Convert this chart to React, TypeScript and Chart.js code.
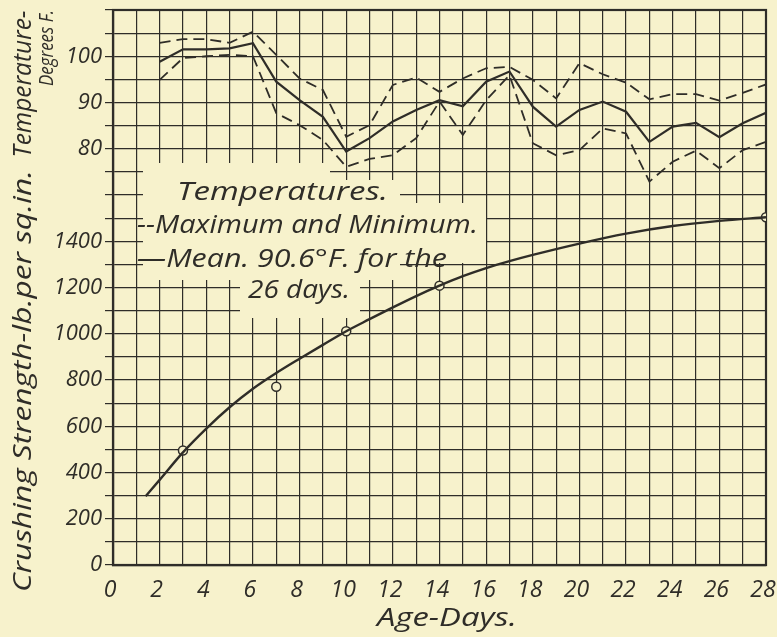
import React, { useEffect, useRef } from 'react';
import { Chart, registerables } from 'chart.js';

Chart.register(...registerables);

// ---- Data ----
const tempDays = [2, 3, 4, 5, 6, 7, 8, 9, 10, 11, 12, 13, 14, 15, 16, 17, 18, 19, 20, 21, 22, 23, 24, 25, 26, 27, 28];
const tempMax = [102.9, 103.7, 103.7, 102.9, 105.3, 100.3, 95.2, 92.7, 82.6, 85.1, 93.8, 95.4, 92.3, 95.2, 97.4, 97.7, 94.9, 90.9, 98.5, 96.1, 94.3, 90.7, 91.8, 91.8, 90.4, 92.1, 93.9];
const tempMean = [98.8, 101.5, 101.5, 101.7, 102.8, 94.5, 90.5, 86.9, 79.4, 82.3, 85.9, 88.4, 90.5, 89.2, 94.5, 96.7, 89.1, 84.8, 88.4, 90.2, 88.0, 81.5, 84.8, 85.6, 82.5, 85.5, 87.8];
const tempMin = [94.9, 99.6, 100, 100.3, 100, 87.7, 85.1, 81.9, 76.1, 77.8, 78.6, 82.3, 90.2, 83, 90.5, 95.9, 81.2, 78.6, 79.7, 84.4, 83.3, 72.9, 77.2, 79.6, 75.8, 79.7, 81.5];

const testDays = [3, 7, 10, 14, 28];
const testStrength = [495, 771, 1011, 1208, 1504];

const curveDays = [1.4, 2, 3, 4, 5, 6, 7, 8, 9, 10, 11, 12, 13, 14, 15, 16, 17, 18, 20, 22, 24, 26, 28];
const curveStrength = [297, 368, 487, 590, 682, 762, 830, 892, 952, 1011, 1063, 1114, 1163, 1208, 1249, 1284, 1314, 1341, 1390, 1433, 1466, 1488, 1504];

const strengthLabels = [0, 200, 400, 600, 800, 1000, 1200, 1400];
const tempLabels = [80, 90, 100];
const xLabelStep = 2;

const legendLines = ['Temperatures.', '--Maximum and Minimum.', '\u2014Mean. 90.6\u00B0F. for the', '26 days.'];
const xTitle = 'Age-Days.';
const yTitleStrength = 'Crushing Strength-lb.per sq.in.';
const yTitleTemp1 = 'Temperature-';
const yTitleTemp2 = 'Degrees F.';

// temperature axis range aligned to strength grid (5 °F per 100 lb)
const S_MAX = 2400;
const T_TOP = 110;
const T_BOTTOM = T_TOP - S_MAX / 20;

const PAPER = '#f7f2cc';
const INK = '#2f2d28';
const FONT = '"Open Sans", "DejaVu Sans", sans-serif';

function tempToStrength(t: number) {
  return (t - T_BOTTOM) * 20;
}

function fitText(ctx: CanvasRenderingContext2D, text: string, x: number, y: number, width: number, size: number, align: 'left' | 'center' = 'left') {
  ctx.save();
  ctx.font = `italic ${size}px ${FONT}`;
  const w = ctx.measureText(text).width;
  const sx = width / w;
  ctx.translate(x, y);
  ctx.scale(sx, 1);
  ctx.textAlign = align;
  ctx.fillText(text, 0, 0);
  ctx.restore();
}

export default function App() {
  const ref = useRef<HTMLCanvasElement>(null);

  useEffect(() => {
    const canvas = ref.current!;
    const paperPlugin = {
      id: 'paper',
      beforeDraw(chart: any) {
        const ctx = chart.ctx;
        ctx.save();
        ctx.fillStyle = PAPER;
        ctx.fillRect(0, 0, chart.width, chart.height);
        ctx.restore();
      },
    };

    const notesPlugin = {
      id: 'notes',
      beforeDatasetsDraw(chart: any) {
        const ctx: CanvasRenderingContext2D = chart.ctx;
        const a = chart.chartArea;
        ctx.save();
        ctx.fillStyle = PAPER;
        ctx.fillRect(143, 163, 187, 117);
        ctx.fillRect(330, 180, 70, 100);
        ctx.fillRect(400, 203, 86, 60);
        ctx.fillRect(240, 280, 120, 38);
        ctx.strokeStyle = INK;
        ctx.lineWidth = 2.2;
        ctx.strokeRect(a.left, a.top, a.right - a.left, a.bottom - a.top);
        ctx.fillStyle = INK;
        ctx.textBaseline = 'alphabetic';
        fitText(ctx, legendLines[0], 177, 200, 211, 25);
        fitText(ctx, legendLines[1], 137, 233, 341, 25);
        fitText(ctx, legendLines[2], 137, 267, 310, 25);
        fitText(ctx, legendLines[3], 248, 298, 102, 25);
        ctx.restore();
      },
      afterDraw(chart: any) {
        const ctx: CanvasRenderingContext2D = chart.ctx;
        ctx.save();
        ctx.fillStyle = INK;
        ctx.textBaseline = 'middle';
        fitText(ctx, xTitle, 447, 619, 140, 25, 'center');
        const rot = (text: string, cx: number, cy: number, len: number, size: number) => {
          ctx.save();
          ctx.translate(cx, cy);
          ctx.rotate(-Math.PI / 2);
          fitText(ctx, text, 0, 0, len, size, 'center');
          ctx.restore();
        };
        rot(yTitleStrength, 24, 381, 422, 25);
        rot(yTitleTemp1, 24, 84, 147, 25);
        rot(yTitleTemp2, 47, 48, 76, 20);
        ctx.restore();
      },
    };

    const tickFont = { family: FONT, size: 22, style: 'italic' as const };

    const chart = new Chart(canvas, {
      type: 'line',
      data: {
        datasets: [
          {
            label: 'Maximum',
            data: tempDays.map((d, i) => ({ x: d, y: tempMax[i] })),
            yAxisID: 'yT',
            borderColor: INK,
            borderWidth: 1.8,
            borderDash: [11, 6],
            pointRadius: 0,
            tension: 0,
          },
          {
            label: 'Mean',
            data: tempDays.map((d, i) => ({ x: d, y: tempMean[i] })),
            yAxisID: 'yT',
            borderColor: INK,
            borderWidth: 2.2,
            pointRadius: 0,
            tension: 0,
          },
          {
            label: 'Minimum',
            data: tempDays.map((d, i) => ({ x: d, y: tempMin[i] })),
            yAxisID: 'yT',
            borderColor: INK,
            borderWidth: 1.8,
            borderDash: [11, 6],
            pointRadius: 0,
            tension: 0,
          },
          {
            label: 'Strength curve',
            data: curveDays.map((d, i) => ({ x: d, y: curveStrength[i] })),
            yAxisID: 'y',
            borderColor: INK,
            borderWidth: 2.4,
            pointRadius: 0,
            cubicInterpolationMode: 'monotone',
          },
          {
            label: 'Tests',
            data: testDays.map((d, i) => ({ x: d, y: testStrength[i] })),
            yAxisID: 'y',
            showLine: false,
            pointRadius: 4.5,
            pointBackgroundColor: PAPER,
            pointBorderColor: INK,
            pointBorderWidth: 1.5,
          },
        ],
      },
      options: {
        animation: false,
        responsive: false,
        events: [],
        layout: { padding: { top: 10, right: 11, left: 0, bottom: 0 } },
        plugins: { legend: { display: false }, tooltip: { enabled: false } },
        scales: {
          x: {
            type: 'linear',
            min: 0,
            max: 28,
            afterFit(s: any) {
              s.height = 72;
              s.paddingLeft = 0;
              s.paddingRight = 0;
            },
            ticks: {
              stepSize: 1,
              autoSkip: false,
              maxRotation: 0,
              padding: 12,
              labelOffset: -3,
              color: INK,
              font: { ...tickFont, size: 23 },
              callback: (v: any) => (Number(v) % xLabelStep === 0 ? String(v) : ''),
            },
            grid: { color: INK, lineWidth: 1.2, drawTicks: false },
            border: { color: INK, width: 2.2 },
          },
          y: {
            type: 'linear',
            min: 0,
            max: S_MAX,
            afterFit(s: any) {
              s.width = 113;
              s.paddingTop = 0;
              s.paddingBottom = 0;
            },
            ticks: {
              stepSize: 100,
              autoSkip: false,
              padding: 3,
              color: INK,
              font: tickFont,
              callback: (v: any) => {
                const n = Number(v);
                if (strengthLabels.includes(n)) return String(n);
                const t = tempLabels.find((tl) => Math.abs(tempToStrength(tl) - n) < 1e-6);
                return t !== undefined ? String(t) : '';
              },
            },
            grid: { color: INK, lineWidth: 1.2, tickLength: 8 },
            border: { color: INK, width: 2.2 },
          },
          yT: {
            type: 'linear',
            display: false,
            min: T_BOTTOM,
            max: T_TOP,
          },
        },
      },
      plugins: [paperPlugin, notesPlugin],
    } as any);

    return () => chart.destroy();
  }, []);

  return (
    <div style={{ position: 'fixed', left: 0, top: 0, width: 777, height: 637, background: PAPER }}>
      <canvas ref={ref} width={777} height={637} style={{ display: 'block' }} />
    </div>
  );
}
